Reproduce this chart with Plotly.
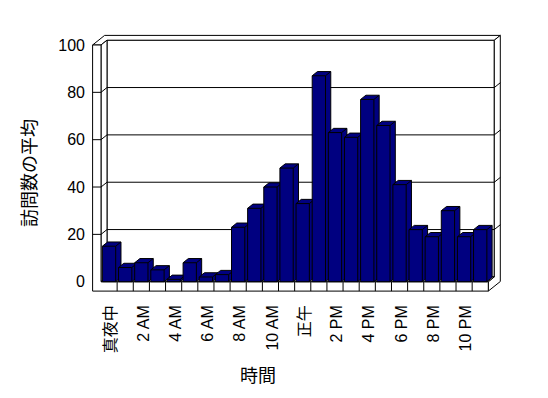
import plotly.graph_objects as go

# ---------------- data ----------------
hours = ["真夜中", "1 AM", "2 AM", "3 AM", "4 AM", "5 AM", "6 AM", "7 AM",
         "8 AM", "9 AM", "10 AM", "11 AM", "正午", "1 PM", "2 PM", "3 PM",
         "4 PM", "5 PM", "6 PM", "7 PM", "8 PM", "9 PM", "10 PM", "11 PM"]
visits = [15, 6, 8, 5, 1, 8, 2, 3, 23, 31, 40, 48,
          33, 87, 63, 61, 77, 66, 41, 22, 19, 30, 19, 22]
y_ticks = [0, 20, 40, 60, 80, 100]
x_title = "時間"
y_title = "訪問数の平均"

# ---------------- layout geometry (pixels) ----------------
W, H = 548, 398
L, R, T, B = 88, 505, 30, 299          # plot area
X_LEFT_PX, X_RIGHT_PX = 101.0, 488.3   # front floor edge
Y0_PX, YTOP_PX = 281.7, 45.0           # value 0 / top value at the front

n = len(hours)
xl, xr = -0.5, n - 0.5
ymaxv = y_ticks[-1]
sx = (X_RIGHT_PX - X_LEFT_PX) / n
sy = (Y0_PX - YTOP_PX) / ymaxv

DX = 6.0 / sx      # depth offset (one depth unit)
DY = 4.8 / sy
TL = 8.4 / sx      # left wall thickness
TF = 9.4 / sy      # floor thickness
BAR_OFF = 1.4 / sx
BAR_W = 13.3 / sx
BAR_Z = 0.88
LABEL_SHIFT = 2.0 / sx

x_range = [xl - (X_LEFT_PX - L) / sx, xr + (R - X_RIGHT_PX) / sx]
y_range = [-(B - Y0_PX) / sy, ymaxv + (YTOP_PX - T) / sy]

NAVY = "#000080"
FONT = "Liberation Sans, Noto Sans CJK JP, sans-serif"

fig = go.Figure()


def poly(pts, fill=None, width=1):
    xs = [p[0] if p is not None else None for p in pts]
    ys = [p[1] if p is not None else None for p in pts]
    kw = dict(x=xs, y=ys, mode="lines", line=dict(color="black", width=width),
              hoverinfo="skip", showlegend=False)
    if fill is not None:
        kw.update(fill="toself", fillcolor=fill)
    fig.add_trace(go.Scatter(**kw))


top = ymaxv
# back wall front plane
poly([(xl + DX, DY), (xr + DX, DY), (xr + DX, top + DY), (xl + DX, top + DY), (xl + DX, DY)], "white")
# top faces of walls
poly([(xl - TL, top), (xl, top), (xl + DX, top + DY), (xr + DX, top + DY),
      (xr + 2 * DX, top + 2 * DY), (xl - TL + 2 * DX, top + 2 * DY), (xl - TL, top)], "white")
# right end face (back wall + floor)
poly([(xr, -TF), (xr + 2 * DX, -TF + 2 * DY), (xr + 2 * DX, top + 2 * DY),
      (xr + DX, top + DY), (xr + DX, DY), (xr, 0), (xr, -TF)], "white")
# left wall inner face
poly([(xl, 0), (xl + DX, DY), (xl + DX, top + DY), (xl, top), (xl, 0)], "white")
# left wall front face + floor front face
poly([(xl - TL, -TF), (xr, -TF), (xr, 0), (xl, 0), (xl, top), (xl - TL, top), (xl - TL, -TF)], "white")
# floor top face
poly([(xl, 0), (xr, 0), (xr + DX, DY), (xl + DX, DY), (xl, 0)], "white")

# gridlines
grid = []
for v in y_ticks[1:-1]:
    grid += [(xl - TL, v), (xl, v), (xl + DX, v + DY), (xr + DX, v + DY), (xr + 2 * DX, v + 2 * DY), None]
poly(grid)

# floor category dividers
div = []
for k in range(1, n):
    div += [(xl + k, -TF), (xl + k, 0), None]
poly(div)

# bars
bdx, bdy = BAR_Z * DX, BAR_Z * DY
for i, v in enumerate(visits):
    x0 = xl + i + BAR_OFF
    x1 = x0 + BAR_W
    poly([(x0, 0), (x1, 0), (x1 + bdx, bdy), (x1 + bdx, v + bdy),
          (x0 + bdx, v + bdy), (x0, v), (x0, 0)], NAVY)
    poly([(x0, v), (x1, v), (x1 + bdx, v + bdy), None, (x1, v), (x1, 0)])

fig.update_layout(
    width=W, height=H,
    margin=dict(l=L, r=W - R, t=T, b=H - B, pad=0),
    paper_bgcolor="white", plot_bgcolor="white",
    font=dict(family=FONT, size=16, color="black"),
    xaxis=dict(range=x_range, showgrid=False, zeroline=False, showline=False,
               tickmode="array",
               tickvals=[i + LABEL_SHIFT for i in range(0, n, 2)],
               ticktext=hours[::2], tickangle=-90, ticks="",
               ticklabelstandoff=2,
               tickfont=dict(size=16), fixedrange=True),
    yaxis=dict(range=y_range, showgrid=False, zeroline=False, showline=False,
               tickmode="array", tickvals=y_ticks,
               ticktext=[str(t) for t in y_ticks], ticks="",
               ticklabelstandoff=2,
               tickfont=dict(size=16), fixedrange=True),
    annotations=[
        dict(text=x_title, xref="paper", yref="paper",
             x=(258 - L) / (R - L), y=(B - 376) / (B - T),
             xanchor="center", yanchor="middle", showarrow=False,
             font=dict(size=18)),
        dict(text=y_title, xref="paper", yref="paper",
             x=(30 - L) / (R - L), y=(B - 173) / (B - T),
             xanchor="center", yanchor="middle", showarrow=False,
             textangle=-90, font=dict(size=18)),
    ],
)

fig.write_html("out.html", config={"displayModeBar": False},
               post_script="document.body.style.margin='0';")
